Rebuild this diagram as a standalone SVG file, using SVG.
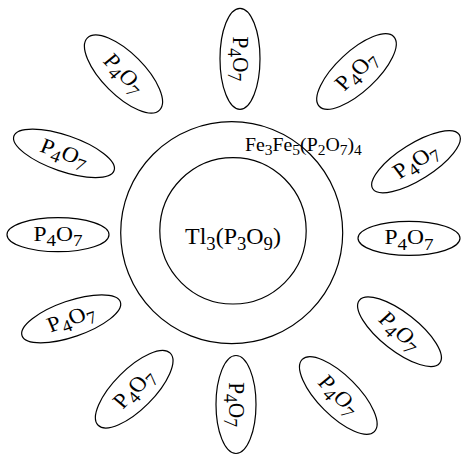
<svg xmlns="http://www.w3.org/2000/svg" width="461" height="455" viewBox="0 0 461 455">
<style>
.e{fill:none;stroke:#000;stroke-width:1.2}
.t{font-family:"Liberation Serif","Times New Roman",serif;font-size:21px;fill:#000;text-anchor:middle}
.s{font-size:17px}
.c{font-family:"Liberation Serif","Times New Roman",serif;fill:#000}
</style>
<rect width="461" height="455" fill="#fff"/>
<g id="connectors"/>
<g id="outer">
<circle class="e" cx="231.7" cy="232.7" r="111"/>
<text class="c" transform="translate(245,151) scale(1.07,1)" font-size="18.5">Fe<tspan dy="4" font-size="14.5">3</tspan><tspan dy="-4">Fe</tspan><tspan dy="4" font-size="14.5">5</tspan><tspan dy="-4">(P</tspan><tspan dy="4" font-size="14.5">2</tspan><tspan dy="-4">O</tspan><tspan dy="4" font-size="14.5">7</tspan><tspan dy="-4">)</tspan><tspan dy="4" font-size="14.5">4</tspan></text>
</g>
<g id="inner">
<circle class="e" cx="233" cy="230.8" r="73.2"/>
<text class="c" transform="translate(233,244.3) scale(1.04,1)" font-size="23" text-anchor="middle">Tl<tspan dy="5.5" font-size="18">3</tspan><tspan dy="-5.5">(P</tspan><tspan dy="5.5" font-size="18">3</tspan><tspan dy="-5.5">O</tspan><tspan dy="5.5" font-size="18">9</tspan><tspan dy="-5.5">)</tspan></text>
</g>
<g id="n1" transform="translate(240,58.8)"><ellipse class="e" rx="50.5" ry="20" transform="rotate(90)"/><text class="t" transform="scale(1.12,1.02) rotate(90)" y="6">P<tspan class="s" dy="5">4</tspan><tspan dy="-5">O</tspan><tspan class="s" dy="5">7</tspan></text></g>
<g id="n2" transform="translate(356.5,71.5)"><ellipse class="e" rx="51" ry="20" transform="rotate(-43)"/><text class="t" transform="scale(1.12,1.02) rotate(-45.7)" y="6">P<tspan class="s" dy="5">4</tspan><tspan dy="-5">O</tspan><tspan class="s" dy="5">7</tspan></text></g>
<g id="n3" transform="translate(416,161.7)"><ellipse class="e" rx="51" ry="18" transform="rotate(-32)"/><text class="t" transform="scale(1.12,1.02) rotate(-34.5)" y="6">P<tspan class="s" dy="5">4</tspan><tspan dy="-5">O</tspan><tspan class="s" dy="5">7</tspan></text></g>
<g id="n4" transform="translate(409,238.3)"><ellipse class="e" rx="51" ry="17"/><text class="t" transform="scale(1.12,1.02)" y="6">P<tspan class="s" dy="5">4</tspan><tspan dy="-5">O</tspan><tspan class="s" dy="5">7</tspan></text></g>
<g id="n5" transform="translate(399.5,331.7)"><ellipse class="e" rx="51" ry="19" transform="rotate(38)"/><text class="t" transform="scale(1.12,1.02) rotate(44.7)" y="6">P<tspan class="s" dy="5">4</tspan><tspan dy="-5">O</tspan><tspan class="s" dy="5">7</tspan></text></g>
<g id="n6" transform="translate(338.3,395.5)"><ellipse class="e" rx="51" ry="20" transform="rotate(45)"/><text class="t" transform="scale(1.12,1.02) rotate(47.7)" y="6">P<tspan class="s" dy="5">4</tspan><tspan dy="-5">O</tspan><tspan class="s" dy="5">7</tspan></text></g>
<g id="n7" transform="translate(236,404.5)"><ellipse class="e" rx="49" ry="20" transform="rotate(90)"/><text class="t" transform="scale(1.12,1.02) rotate(90)" y="6">P<tspan class="s" dy="5">4</tspan><tspan dy="-5">O</tspan><tspan class="s" dy="5">7</tspan></text></g>
<g id="n8" transform="translate(134.2,389.2)"><ellipse class="e" rx="51" ry="20" transform="rotate(-45)"/><text class="t" transform="scale(1.12,1.02) rotate(-47.7)" y="6">P<tspan class="s" dy="5">4</tspan><tspan dy="-5">O</tspan><tspan class="s" dy="5">7</tspan></text></g>
<g id="n9" transform="translate(71.2,318.8)"><ellipse class="e" rx="52" ry="18" transform="rotate(-19)"/><text class="t" transform="scale(1.12,1.02) rotate(-20.7)" y="6">P<tspan class="s" dy="5">4</tspan><tspan dy="-5">O</tspan><tspan class="s" dy="5">7</tspan></text></g>
<g id="n10" transform="translate(58,234.7)"><ellipse class="e" rx="51" ry="17"/><text class="t" transform="scale(1.12,1.02)" y="6">P<tspan class="s" dy="5">4</tspan><tspan dy="-5">O</tspan><tspan class="s" dy="5">7</tspan></text></g>
<g id="n11" transform="translate(64,153.3)"><ellipse class="e" rx="53" ry="18" transform="rotate(19)"/><text class="t" transform="scale(1.12,1.02) rotate(20.7)" y="6">P<tspan class="s" dy="5">4</tspan><tspan dy="-5">O</tspan><tspan class="s" dy="5">7</tspan></text></g>
<g id="n12" transform="translate(123.5,74)"><ellipse class="e" rx="51" ry="21" transform="rotate(45)"/><text class="t" transform="scale(1.12,1.02) rotate(47.7)" y="6">P<tspan class="s" dy="5">4</tspan><tspan dy="-5">O</tspan><tspan class="s" dy="5">7</tspan></text></g>
</svg>
